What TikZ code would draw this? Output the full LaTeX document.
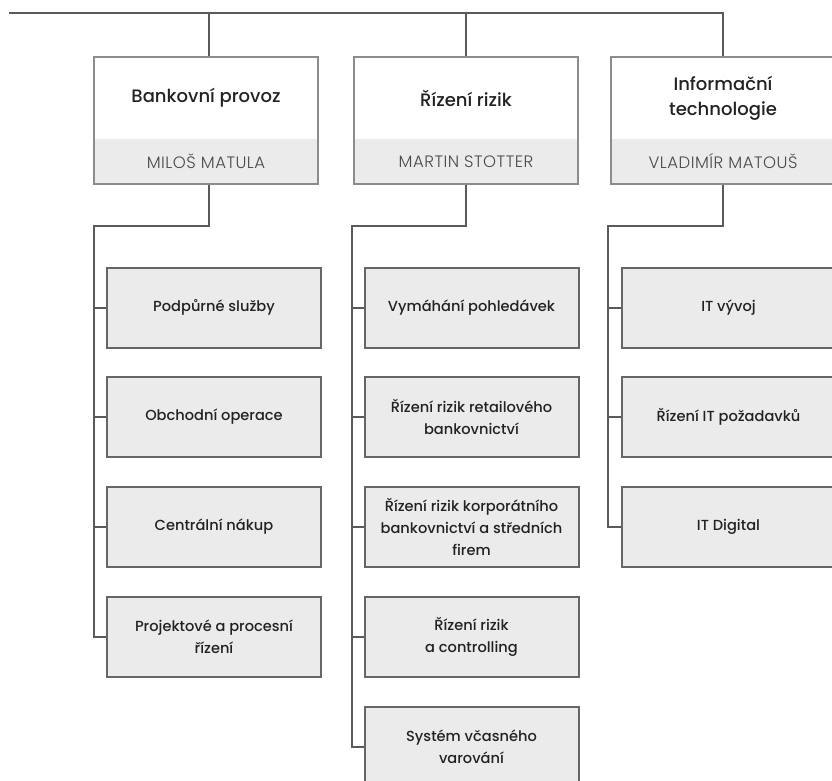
\documentclass[tikz,border=0pt]{standalone}
\usepackage{fontspec}
\setmainfont{Poppins}
\newfontfamily\medfont{Poppins Medium}
\newfontfamily\namefont[LetterSpace=3]{Poppins Light}
\usepackage{tikz}
\usetikzlibrary{positioning,fit}

\definecolor{linegray}{HTML}{5A5A5A}
\definecolor{framegray}{HTML}{8C8C8C}
\definecolor{unitframe}{HTML}{666666}
\definecolor{bandgray}{HTML}{EBEBEB}
\definecolor{textdark}{HTML}{222222}
\definecolor{namegray}{HTML}{4A4A4A}

\tikzset{
  conn/.style={draw=linegray, line width=2pt},
  headtitle/.style={minimum width=224pt, minimum height=82pt, inner sep=0pt, align=center, text=textdark, font=\medfont\fontsize{18}{25}\selectfont},
  headname/.style={fill=bandgray, minimum width=224pt, minimum height=44pt, inner sep=0pt, text=namegray, font=\namefont\fontsize{16.5}{20}\selectfont},
  headframe/.style={draw=framegray, line width=2pt, inner sep=0pt},
  unitbox/.style={draw=unitframe, line width=2pt, fill=bandgray, minimum width=214pt, minimum height=80pt, inner sep=0pt, align=center, text=textdark, font=\medfont\fontsize{14.6}{22}\selectfont},
}

\begin{document}
\begin{tikzpicture}[x=1pt, y=-1pt]
\useasboundingbox (0,0) rectangle (832,781);

% vedení
\coordinate (top) at (9,13);

% hlavičky úseků
\node[headtitle] (bp) at (206,98) {Bankovní provoz};
\node[headname, below=0pt of bp] (bpn) {MILOŠ MATULA};
\node[headframe, fit=(bp)(bpn)] (bpbox) {};

\node[headtitle] (rr) at (466,98) {Řízení rizik};
\node[headname, below=0pt of rr] (rrn) {MARTIN STOTTER};
\node[headframe, fit=(rr)(rrn)] (rrbox) {};

\node[headtitle] (it) at (723,98) {Informační\\technologie};
\node[headname, below=0pt of it] (itn) {VLADIMÍR MATOUŠ};
\node[headframe, fit=(it)(itn)] (itbox) {};

\draw[conn] (top) -| (itbox.north);
\draw[conn] ([xshift=3pt]bpbox.north) -- ([xshift=3pt]bpbox.north |- top);
\draw[conn] (rrbox.north) -- (rrbox.north |- top);

% bankovní provoz
\coordinate (busA) at (94,226);
\node[unitbox] (ps) at (214,307.5) {Podpůrné služby};
\node[unitbox] (oo) at (214,417) {Obchodní operace};
\node[unitbox] (cn) at (214,527) {Centrální nákup};
\node[unitbox] (pp) at (214,637) {Projektové a procesní\\řízení};
\draw[conn] ([xshift=3pt]bpbox.south) |- (busA) |- (pp.west);
\draw[conn] (busA |- ps.west) -- (ps.west);
\draw[conn] (busA |- oo.west) -- (oo.west);
\draw[conn] (busA |- cn.west) -- (cn.west);

% řízení rizik
\coordinate (busB) at (352,226);
\node[unitbox] (vp) at (471.5,307.5) {Vymáhání pohledávek};
\node[unitbox] (rb) at (471.5,417) {Řízení rizik retailového\\bankovnictví};
\node[unitbox] (rk) at (471.5,527) {Řízení rizik korporátního\\bankovnictví a středních\\firem};
\node[unitbox] (rc) at (471.5,637) {Řízení rizik\\a controlling};
\node[unitbox] (sv) at (471.5,747) {Systém včasného\\varování};
\draw[conn] (rrbox.south) |- (busB) |- (sv.west);
\draw[conn] (busB |- vp.west) -- (vp.west);
\draw[conn] (busB |- rb.west) -- (rb.west);
\draw[conn] (busB |- rk.west) -- (rk.west);
\draw[conn] (busB |- rc.west) -- (rc.west);

% informační technologie
\coordinate (busC) at (608,226);
\node[unitbox] (iv) at (728.5,307.5) {IT vývoj};
\node[unitbox] (ip) at (728.5,417) {Řízení IT požadavků};
\node[unitbox] (id) at (728.5,527) {IT Digital};
\draw[conn] (itbox.south) |- (busC) |- (id.west);
\draw[conn] (busC |- iv.west) -- (iv.west);
\draw[conn] (busC |- ip.west) -- (ip.west);
\end{tikzpicture}
\end{document}
